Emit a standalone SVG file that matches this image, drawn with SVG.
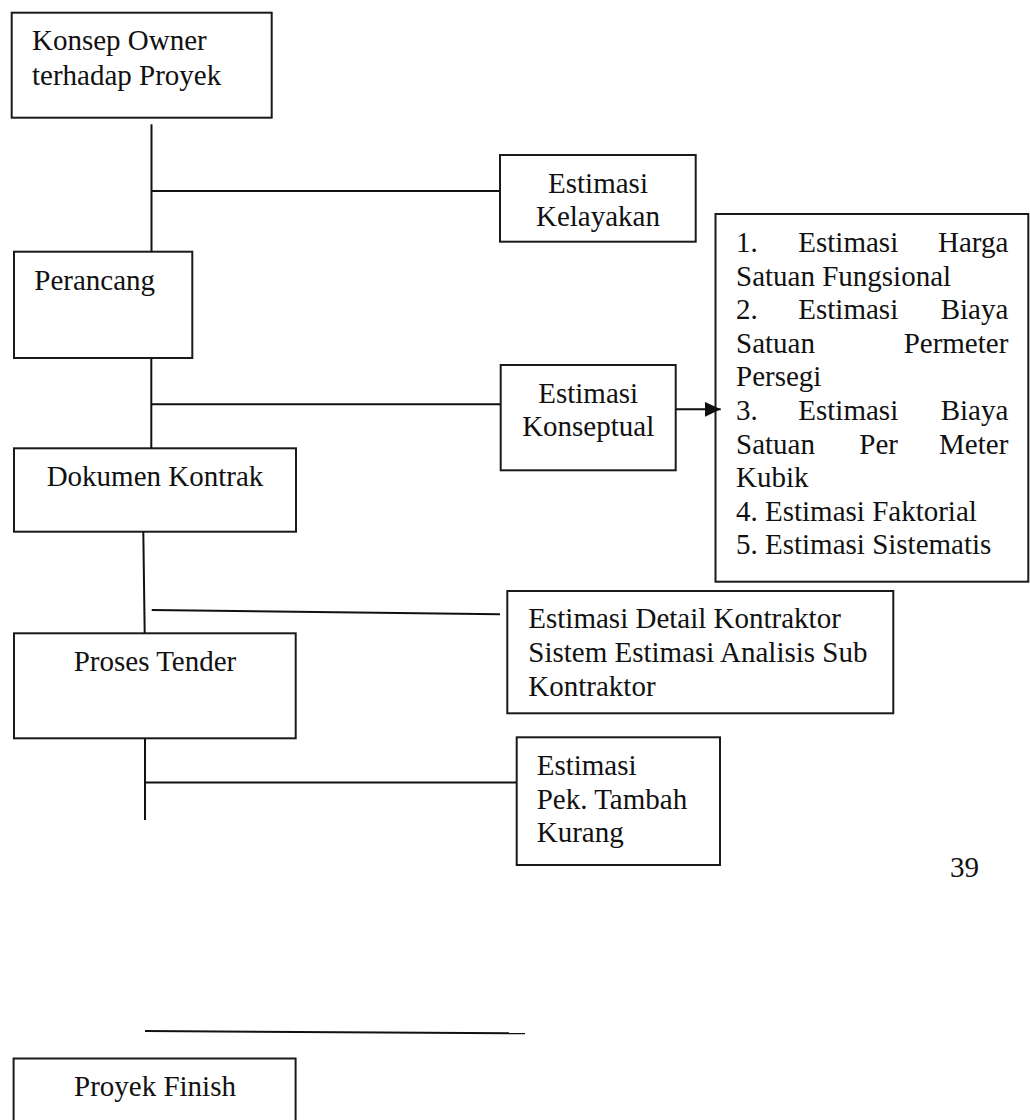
<svg xmlns="http://www.w3.org/2000/svg" width="1030" height="1120" viewBox="0 0 1030 1120">
<style>
.box{fill:#fff;stroke:#1a1a1a;stroke-width:2}
.ln{fill:none;stroke:#111;stroke-width:2}
text{font-family:"Liberation Serif","Times New Roman",serif;font-size:29px;fill:#111}
.c{text-anchor:middle}
.e{text-anchor:end}
</style>
<defs>
<marker id="arr" markerUnits="userSpaceOnUse" markerWidth="17" markerHeight="16" refX="16" refY="7.5" orient="auto">
<path d="M0,0 L16,7.5 L0,15 z" fill="#111"/>
</marker>
</defs>
<rect width="1030" height="1120" fill="#fff"/>
<g id="konsep-owner">
<rect class="box" x="11.7" y="12.7" width="260" height="105"/>
<text x="32" y="50.4">Konsep Owner</text>
<text x="32" y="84.5">terhadap Proyek</text>
</g>
<g id="estimasi-kelayakan">
<rect class="box" x="500" y="155" width="195.7" height="86.7"/>
<text class="c" x="598" y="192.7">Estimasi</text>
<text class="c" x="598" y="226.3">Kelayakan</text>
</g>
<g id="perancang">
<rect class="box" x="14" y="251.7" width="178.3" height="106.3"/>
<text x="34.3" y="289.5">Perancang</text>
</g>
<g id="daftar-estimasi">
<rect class="box" x="715.5" y="214" width="312.8" height="367.7"/>
<text x="736" y="252">1.</text><text x="798.3" y="252">Estimasi</text><text class="e" x="1008.3" y="252">Harga</text>
<text x="736" y="285.6">Satuan Fungsional</text>
<text x="736" y="319.2">2.</text><text x="798.3" y="319.2">Estimasi</text><text class="e" x="1008.3" y="319.2">Biaya</text>
<text x="736" y="352.8">Satuan</text><text class="e" x="1008.3" y="352.8">Permeter</text>
<text x="736" y="386.4">Persegi</text>
<text x="736" y="420">3.</text><text x="798.3" y="420">Estimasi</text><text class="e" x="1008.3" y="420">Biaya</text>
<text x="736" y="453.6">Satuan</text><text x="859.3" y="453.6">Per</text><text class="e" x="1008.3" y="453.6">Meter</text>
<text x="736" y="487.2">Kubik</text>
<text x="736" y="520.8">4. Estimasi Faktorial</text>
<text x="736" y="554.4">5. Estimasi Sistematis</text>
</g>
<g id="estimasi-konseptual">
<rect class="box" x="500.7" y="365" width="175" height="105.3"/>
<text class="c" x="588.2" y="402.7">Estimasi</text>
<text class="c" x="588.2" y="436.3">Konseptual</text>
</g>
<g id="dokumen-kontrak">
<rect class="box" x="14" y="448.3" width="282" height="83.4"/>
<text class="c" x="155" y="486.3">Dokumen Kontrak</text>
</g>
<g id="estimasi-detail">
<rect class="box" x="507.3" y="591" width="386" height="122.3"/>
<text x="528.3" y="628.3">Estimasi Detail Kontraktor</text>
<text x="528.3" y="661.9">Sistem Estimasi Analisis Sub</text>
<text x="528.3" y="695.5">Kontraktor</text>
</g>
<g id="proses-tender">
<rect class="box" x="14" y="633.3" width="281.7" height="105"/>
<text class="c" x="155" y="671">Proses Tender</text>
</g>
<g id="estimasi-pek">
<rect class="box" x="516.7" y="737.3" width="203.3" height="127.7"/>
<text x="536.7" y="775">Estimasi</text>
<text x="536.7" y="808.6">Pek. Tambah</text>
<text x="536.7" y="842.2">Kurang</text>
</g>
<text id="page-number" x="950" y="877.3">39</text>
<g id="proyek-finish">
<rect class="box" x="13.6" y="1058.5" width="282" height="100"/>
<text class="c" x="155" y="1096">Proyek Finish</text>
</g>
<g id="connectors">
<line class="ln" x1="151.5" y1="124.3" x2="151.5" y2="251.7"/>
<line class="ln" x1="151.5" y1="191" x2="500" y2="191"/>
<line class="ln" x1="151.3" y1="358" x2="151.3" y2="448.3"/>
<line class="ln" x1="151.3" y1="404.3" x2="500.7" y2="404.3"/>
<line class="ln" x1="675.7" y1="409.3" x2="720.7" y2="409.3" marker-end="url(#arr)"/>
<line class="ln" x1="143.3" y1="531.7" x2="144.7" y2="633.3"/>
<line class="ln" x1="151.7" y1="610" x2="500" y2="614.3"/>
<line class="ln" x1="145" y1="738.3" x2="145" y2="820"/>
<line class="ln" x1="145" y1="782.5" x2="516.7" y2="782.5"/>
<line class="ln" x1="145" y1="1031" x2="525" y2="1033.3"/>
</g>
</svg>
